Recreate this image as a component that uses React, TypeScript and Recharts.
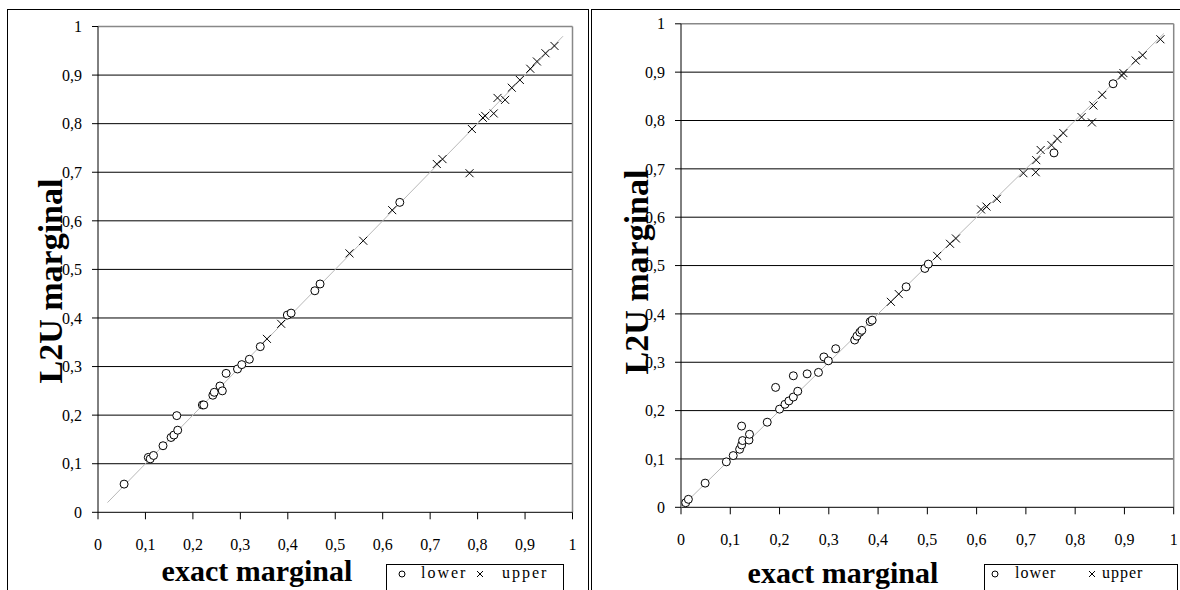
import React from "react";
import {
  ScatterChart,
  Scatter,
  XAxis,
  YAxis,
  CartesianGrid,
  ReferenceLine,
} from "recharts";

// [exact, L2U] pairs
const leftLower = [
  [0.055, 0.058], [0.106, 0.113], [0.11, 0.11], [0.117, 0.117], [0.137, 0.137],
  [0.154, 0.154], [0.16, 0.159], [0.168, 0.169], [0.166, 0.199], [0.22, 0.221],
  [0.223, 0.221], [0.242, 0.241], [0.245, 0.247], [0.257, 0.26], [0.262, 0.25],
  [0.27, 0.286], [0.294, 0.295], [0.303, 0.304], [0.319, 0.315], [0.342, 0.341],
  [0.399, 0.406], [0.407, 0.41], [0.457, 0.456], [0.468, 0.47], [0.636, 0.638],
];
const leftUpper = [
  [0.356, 0.357], [0.386, 0.388], [0.53, 0.533], [0.559, 0.559], [0.62, 0.622],
  [0.714, 0.717], [0.726, 0.727], [0.783, 0.698], [0.788, 0.789], [0.811, 0.812],
  [0.816, 0.816], [0.834, 0.821], [0.842, 0.853], [0.858, 0.849], [0.872, 0.874],
  [0.889, 0.89], [0.911, 0.913], [0.925, 0.928], [0.943, 0.945], [0.962, 0.96],
];
const rightLower = [
  [0.0095, 0.0095], [0.015, 0.0165], [0.049, 0.05], [0.092, 0.094], [0.106, 0.107],
  [0.119, 0.12], [0.123, 0.129], [0.125, 0.138], [0.123, 0.168], [0.138, 0.139],
  [0.139, 0.151], [0.175, 0.176], [0.192, 0.248], [0.2, 0.203], [0.211, 0.213],
  [0.219, 0.22], [0.228, 0.228], [0.237, 0.24], [0.228, 0.272], [0.256, 0.276],
  [0.279, 0.279], [0.29, 0.311], [0.299, 0.303], [0.314, 0.328], [0.3525, 0.346],
  [0.357, 0.354], [0.363, 0.362], [0.367, 0.366], [0.384, 0.384], [0.388, 0.387],
  [0.457, 0.456], [0.495, 0.494], [0.502, 0.503], [0.757, 0.733], [0.877, 0.876],
];
const rightUpper = [
  [0.426, 0.425], [0.442, 0.441], [0.52, 0.52], [0.546, 0.545], [0.558, 0.556],
  [0.609, 0.616], [0.62, 0.622], [0.641, 0.638], [0.695, 0.691], [0.72, 0.693],
  [0.721, 0.718], [0.73, 0.739], [0.752, 0.749], [0.764, 0.762], [0.776, 0.774],
  [0.813, 0.807], [0.834, 0.796], [0.837, 0.831], [0.855, 0.853], [0.895, 0.893],
  [0.898, 0.898], [0.923, 0.924], [0.937, 0.935], [0.973, 0.968],
];
const leftDiagonal = [[0.02, 0.02], [0.98, 0.98]];
const rightDiagonal = [[0, 0], [0.98, 0.98]];

const axisTicks = [0, 0.1, 0.2, 0.3, 0.4, 0.5, 0.6, 0.7, 0.8, 0.9, 1];
const gridValues = [0.1, 0.2, 0.3, 0.4, 0.5, 0.6, 0.7, 0.8, 0.9];

const serif = "Liberation Serif";

const toPoints = (arr: number[][]) => arr.map(([x, y]) => ({ x, y }));
const fmt = (v: number) => (v === 0 || v === 1 ? String(v) : v.toFixed(1).replace(".", ","));

const CircleMark = (p: any) => (
  <circle cx={p.cx} cy={p.cy} r={4} fill="#fff" stroke="#000" strokeWidth={1} />
);
const CrossMark = (p: any) => (
  <path
    d={`M${p.cx - 4},${p.cy - 4}L${p.cx + 4},${p.cy + 4}M${p.cx - 4},${p.cy + 4}L${p.cx + 4},${p.cy - 4}`}
    stroke="#000"
    strokeWidth={1}
    fill="none"
  />
);
const NoMark = () => <g />;

function Panel(props: any) {
  const { lower, upper, diag, width, margin } = props;
  const tick = { fill: "#000", fontSize: 16, fontFamily: serif };
  return (
    <ScatterChart width={width} height={590} margin={margin} style={{ fontFamily: serif }}>
      <CartesianGrid
        vertical={false}
        horizontalValues={gridValues}
        stroke="#000"
        strokeWidth={1}
      />
      <XAxis
        type="number"
        dataKey="x"
        domain={[0, 1]}
        ticks={axisTicks}
        tickFormatter={fmt}
        height={30}
        stroke="#000"
        tickSize={7}
        tickMargin={19}
        tick={tick}
        interval={0}
      />
      <YAxis
        type="number"
        dataKey="y"
        domain={[0, 1]}
        ticks={axisTicks}
        tickFormatter={fmt}
        width={40}
        stroke="#000"
        tickSize={6}
        tickMargin={10}
        tick={tick}
        interval={0}
      />
      <ReferenceLine y={1} stroke="#888" strokeWidth={1.5} />
      <ReferenceLine x={1} stroke="#888" strokeWidth={1.5} />
      <Scatter
        data={toPoints(diag)}
        line={{ stroke: "#b8b8b8", strokeWidth: 1 }}
        shape={NoMark}
        isAnimationActive={false}
      />
      <Scatter data={toPoints(lower)} shape={CircleMark} isAnimationActive={false} />
      <Scatter data={toPoints(upper)} shape={CrossMark} isAnimationActive={false} />
    </ScatterChart>
  );
}

const CircleIcon = () => (
  <svg width={10} height={10} style={{ display: "block" }}>
    <circle cx={5} cy={5} r={3} fill="none" stroke="#000" strokeWidth={1} />
  </svg>
);
const CrossIcon = () => (
  <svg width={10} height={10} style={{ display: "block" }}>
    <path d="M2,2L8,8M2,8L8,2" stroke="#000" strokeWidth={1} />
  </svg>
);

const abs = (left: number, top: number, extra: any = {}) => ({
  position: "absolute" as const,
  left,
  top,
  ...extra,
});

function Legend(props: any) {
  const { left, width, circleX, lowerX, crossX, upperX, spacing } = props;
  const text = { fontSize: 16, lineHeight: "16px", fontFamily: serif, color: "#000", whiteSpace: "nowrap" };
  return (
    <>
      <div style={abs(left, 564, { width, height: 60, border: "1px solid #000", boxSizing: "border-box" })} />
      <div style={abs(circleX - 5, 569)}><CircleIcon /></div>
      <div style={abs(lowerX, 565, { ...text, letterSpacing: spacing })}>lower</div>
      <div style={abs(crossX - 5, 569)}><CrossIcon /></div>
      <div style={abs(upperX, 565, { ...text, letterSpacing: spacing })}>upper</div>
    </>
  );
}

const titleStyle = {
  fontFamily: serif,
  fontWeight: "bold" as const,
  fontSize: 30,
  lineHeight: "30px",
  color: "#000",
  whiteSpace: "nowrap" as const,
};

export default function App() {
  return (
    <div style={{ position: "absolute", left: 0, top: 0, width: 1180, height: 590, overflow: "hidden", background: "#fff", fontFamily: serif }}>
      <div style={abs(7, 9, { width: 582, height: 700, border: "1px solid #000", boxSizing: "border-box" })} />
      <div style={abs(591, 9, { width: 700, height: 700, border: "1px solid #000", boxSizing: "border-box" })} />

      <div style={abs(0, 0)}>
        <Panel
          lower={leftLower}
          upper={leftUpper}
          diag={leftDiagonal}
          width={588}
          margin={{ top: 26.5, right: 15.5, left: 58, bottom: 47.7 }}
        />
      </div>
      <div style={abs(591, 0)}>
        <Panel
          lower={rightLower}
          upper={rightUpper}
          diag={rightDiagonal}
          width={589}
          margin={{ top: 23.8, right: 6.3, left: 50, bottom: 52.7 }}
        />
      </div>

      <div style={abs(257, 556, { ...titleStyle, transform: "translateX(-50%)" })}>exact marginal</div>
      <div style={abs(843, 558, { ...titleStyle, transform: "translateX(-50%)" })}>exact marginal</div>
      <div style={abs(51, 281, { ...titleStyle, fontSize: 34, lineHeight: "34px", transform: "translate(-50%, -50%) rotate(-90deg)" })}>L2U marginal</div>
      <div style={abs(637, 272, { ...titleStyle, fontSize: 34, lineHeight: "34px", transform: "translate(-50%, -50%) rotate(-90deg)" })}>L2U marginal</div>

      <Legend left={386} width={178} circleX={402} lowerX={421} crossX={480} upperX={502} spacing={2} />
      <Legend left={984} width={194} circleX={995} lowerX={1015} crossX={1092} upperX={1102} spacing={1} />
    </div>
  );
}
